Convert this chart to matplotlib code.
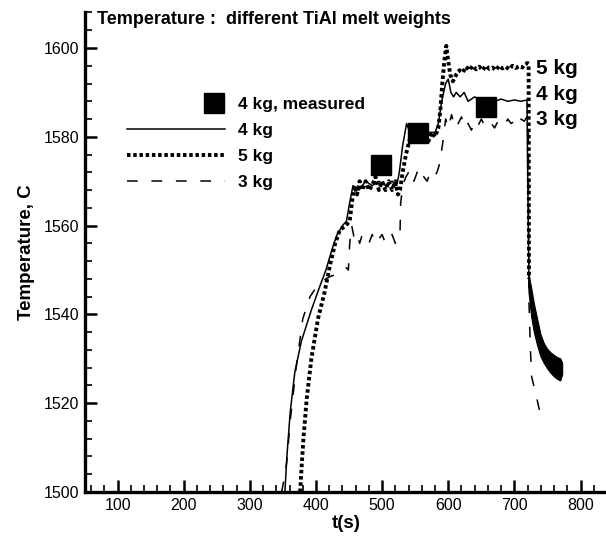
import matplotlib.pyplot as plt
import numpy as np
from matplotlib.legend_handler import HandlerLine2D

plt.rcParams['font.family'] = ['Liberation Sans', 'DejaVu Sans']

# 4 kg, computed (solid)
t_4kg = [353, 356, 361, 368, 378, 393, 405, 415, 425, 432, 440, 446, 452, 456,
         465, 475, 485, 495, 505, 515, 522, 526, 531, 537, 542, 550, 560, 570,
         580, 585, 590, 596, 600, 604, 608, 612, 618, 624, 630, 640, 650, 660,
         670, 680, 690, 700, 710, 719, 721, 722]
T_4kg = [1500, 1508, 1518, 1527, 1534, 1541, 1546, 1550, 1555, 1558, 1560, 1561, 1566, 1569,
         1568, 1570, 1569, 1570, 1569, 1570, 1569, 1572, 1578, 1583, 1581, 1582, 1580, 1581,
         1581, 1583, 1588, 1592, 1593, 1590, 1589, 1590, 1589, 1590, 1588, 1589, 1588, 1588.5,
         1588, 1588.5, 1588, 1588.3, 1588, 1588.3, 1560, 1548]

# 5 kg, computed (thick dotted)
t_5kg = [376, 378, 381, 386, 393, 403, 413, 421, 429, 436, 445, 451, 455, 458,
         462, 466, 470, 475, 480, 485, 490, 495, 500, 505, 510, 515, 520, 524,
         527, 531, 536, 541, 545, 550, 555, 560, 565, 570, 575, 580, 585, 588,
         591, 594, 597, 600, 603, 607, 612, 617, 622, 627, 632, 637, 642, 647,
         652, 657, 662, 667, 672, 677, 682, 687, 692, 697, 702, 707, 712, 716,
         720, 721.5, 722]
T_5kg = [1500, 1505, 1512, 1521, 1530, 1539, 1545, 1551, 1556, 1559, 1560, 1561, 1566, 1569,
         1567, 1570, 1568, 1570, 1568, 1569, 1571, 1568, 1570, 1568, 1570, 1568, 1570, 1567,
         1568, 1572, 1576, 1579, 1581, 1579, 1582, 1580, 1581, 1579, 1581, 1580, 1582, 1586,
         1592, 1597, 1600.5, 1597, 1594, 1592.5, 1594, 1595, 1594.5, 1595.8, 1595, 1596, 1595.2, 1595.8,
         1595, 1596, 1595.3, 1595.6, 1595, 1596, 1595.4, 1595.8, 1595.2, 1596, 1595.5, 1595.9, 1595.6, 1596.4,
         1596.6, 1596.4, 1548]

# 3 kg, computed (dashed)
t_3kg = [348, 352, 356, 361, 370, 380, 391, 400, 406, 415, 421, 430, 436, 446,
         449, 451, 454, 458, 462, 466, 470, 475, 480, 485, 490, 495, 500, 505,
         510, 515, 520, 525, 527, 528, 531, 536, 542, 548, 553, 558, 563, 568,
         573, 578, 583, 587, 590, 593, 596, 600, 605, 610, 615, 620, 625, 630,
         635, 640, 645, 650, 655, 660, 665, 670, 675, 680, 685, 690, 695, 700,
         705, 710, 715, 719, 721, 722, 724, 726, 734, 740]
T_3kg = [1500, 1503, 1507, 1516, 1528, 1539, 1544, 1546, 1547, 1548, 1548.5, 1549, 1549.5, 1550.5,
         1550, 1556, 1560, 1557, 1558, 1556, 1558, 1557, 1556, 1558, 1556, 1557, 1558, 1556,
         1557, 1558, 1556, 1557, 1558, 1565, 1569, 1571, 1572.5, 1570, 1572, 1570, 1571, 1570,
         1572, 1571, 1572, 1574, 1577, 1580, 1584, 1582, 1585, 1582, 1583, 1584.5, 1582, 1583,
         1581.5, 1583.5, 1582.5, 1584, 1582.5, 1583.5, 1583, 1582, 1583.5, 1583, 1582.5, 1584, 1583, 1583.5,
         1582.5, 1584, 1583.5, 1584.5, 1583, 1543, 1533, 1526, 1521, 1517]

# cooling band after 720 s (4 kg / 5 kg overlap)
t_band = [722, 726, 730, 735, 740, 745, 750, 755, 760, 765, 770, 773]
T_band_hi = [1549, 1546, 1542.5, 1539, 1535.5, 1533.5, 1532.2, 1531.4, 1530.8, 1530.3, 1530, 1529]
T_band_lo = [1545, 1539.5, 1536, 1533, 1530.5, 1529, 1527.8, 1526.8, 1526, 1525.4, 1525, 1526.5]

# measured, 4 kg
t_meas = [498, 554, 657]
T_meas = [1573.6, 1580.9, 1586.7]

end_labels = ['5 kg', '4 kg', '3 kg']
end_T = [1595.3, 1589.6, 1584.0]


class SquareRight(HandlerLine2D):
    def create_artists(self, legend, orig_handle, xdescent, ydescent,
                       width, height, fontsize, trans):
        arts = super().create_artists(legend, orig_handle, xdescent, ydescent,
                                      width, height, fontsize, trans)
        arts[-1].set_xdata([width - xdescent - 8.5])
        return arts


fig = plt.figure(figsize=(6.06, 5.4), dpi=100)
ax = fig.add_axes([84.5 / 606, 48 / 540, (607 - 84.5) / 606, (492 - 12.5) / 540])

l4, = ax.plot(t_4kg, T_4kg, color='black', lw=1.1, label='4 kg')
l5, = ax.plot(t_5kg, T_5kg, color='black', lw=2.8, linestyle=(0, (0.9, 0.7)),
              dash_capstyle='butt', label='5 kg')
l3, = ax.plot(t_3kg, T_3kg, color='black', lw=1.1, linestyle=(0, (7, 9)), label='3 kg')
ax.fill(t_band + t_band[::-1], T_band_hi + T_band_lo[::-1], color='black', lw=0.8)
lm, = ax.plot(t_meas, T_meas, linestyle='none', marker='s', markersize=14,
              color='black', label='4 kg, measured')

for lab, y in zip(end_labels, end_T):
    ax.text(733, y, lab, fontsize=15, fontweight='bold', va='center', ha='left')

fig.text(97 / 606, 1 - 20 / 540, 'Temperature :  different TiAl melt weights',
         fontsize=13, fontweight='bold', va='center', ha='left')

ax.legend(handles=[lm, l4, l5, l3], loc='upper left',
          bbox_to_anchor=(127 / 606, 1 - 97 / 540), bbox_transform=fig.transFigure,
          frameon=False, borderpad=0, borderaxespad=0, handlelength=5.67,
          handletextpad=0.7, labelspacing=0.62,
          prop={'weight': 'bold', 'size': 12.5},
          handler_map={lm: SquareRight(numpoints=1)})

ax.set_xlim(50, 840)
ax.set_ylim(1500, 1608)
ax.set_xticks(np.arange(100, 801, 100))
ax.set_xticks(np.arange(60, 841, 20), minor=True)
ax.set_yticks(np.arange(1500, 1601, 20))
ax.set_yticks(np.arange(1500, 1609, 4), minor=True)

for s in ['top', 'right']:
    ax.spines[s].set_visible(False)
for s in ['left', 'bottom']:
    ax.spines[s].set_linewidth(2.4)

ax.tick_params(which='major', direction='in', length=8.5, width=1.8, labelsize=11.5, pad=4)
ax.tick_params(which='minor', direction='in', length=5, width=1.2)
ax.tick_params(axis='y', which='major', pad=4)

ax.set_xlabel('t(s)', fontsize=13.5, fontweight='bold', labelpad=2)
ax.set_ylabel('Temperature, C', fontsize=13.5, fontweight='bold', labelpad=6)

fig.savefig('out.png', dpi=100)
